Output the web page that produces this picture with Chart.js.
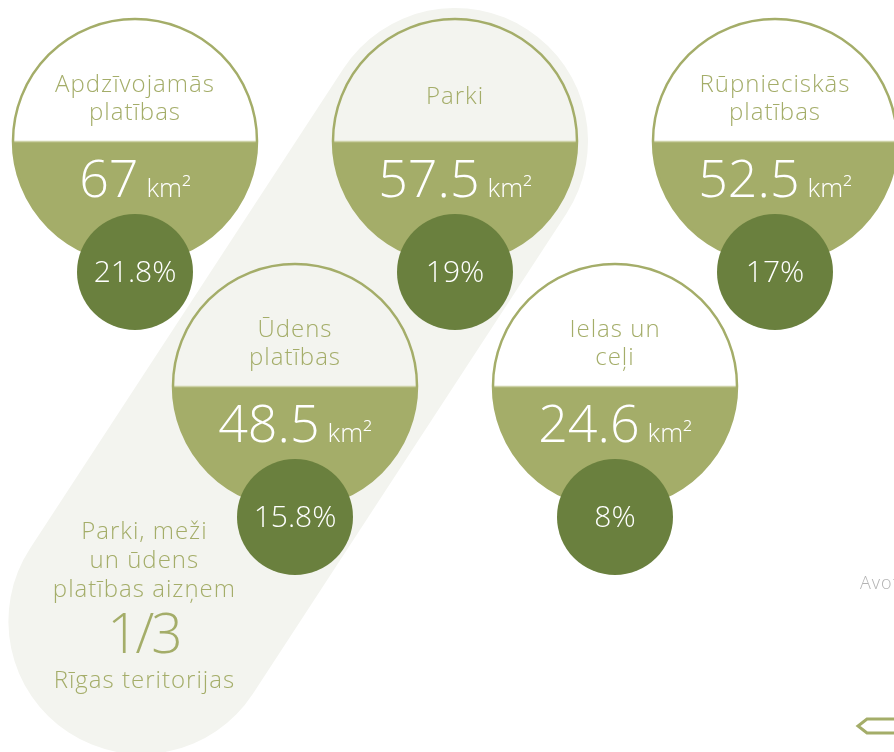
<!DOCTYPE html>
<html lang="lv">
<head>
<meta charset="utf-8">
<title>Rīgas teritorija</title>
<script src="https://cdn.jsdelivr.net/npm/chart.js@4.4.1/dist/chart.umd.min.js"></script>
<style>
  html, body { margin: 0; padding: 0; background: #ffffff; }
  #wrap { width: 894px; height: 752px; }
</style>
</head>
<body>
<div id="wrap"><canvas id="areas" width="894" height="752"></canvas></div>
<script>
// land use categories, area in km2 and share of city territory
const titleLines = [
  ['Apdzīvojamās', 'platības'],
  ['Parki'],
  ['Rūpnieciskās', 'platības'],
  ['Ūdens', 'platības'],
  ['Ielas un', 'ceļi']
];
const areaKm2 = [67, 57.5, 52.5, 48.5, 24.6];
const sharePct = [21.8, 19, 17, 15.8, 8];
// where each bubble sits in the grid (column, row)
const gridCol = [0, 1, 2, 0.5, 1.5];
const gridRow = [0, 0, 0, 1, 1];

const summaryLines = ['Parki, meži', 'un ūdens', 'platības aizņem'];
const summaryFraction = '1/3';
const summaryTail = 'Rīgas teritorijas';
const summaryCol = 0.02;
const summaryRow = 1.96;
const sourceLabel = 'Avots:';

const OLIVE = '#a4ad69';
const DARK = '#6a803e';
const BAND = '#f3f4ef';
const FONT = '"Open Sans", "Noto Sans", sans-serif';

const BIG_R = 122;
const SMALL_R = 58;
const SMALL_DY = 131;

function fmt(v) {
  return String(v);
}

function spaced(ctx, px) {
  ctx.letterSpacing = px + 'px';
}

const bubblePlugin = {
  id: 'bubbles',
  beforeDatasetsDraw(chart) {
    const ctx = chart.ctx;
    const xs = chart.scales.x, ys = chart.scales.y;
    // band from the Parki bubble down to the summary text
    const p1 = { x: xs.getPixelForValue(gridCol[1]), y: ys.getPixelForValue(gridRow[1]) };
    const p2 = { x: xs.getPixelForValue(summaryCol), y: ys.getPixelForValue(summaryRow) };
    ctx.save();
    ctx.strokeStyle = BAND;
    ctx.lineWidth = 266;
    ctx.lineCap = 'round';
    ctx.beginPath();
    ctx.moveTo(p1.x, p1.y);
    ctx.lineTo(p2.x, p2.y);
    ctx.stroke();

    // lower half fill of each bubble
    const meta = chart.getDatasetMeta(0);
    meta.data.forEach((pt) => {
      ctx.fillStyle = OLIVE;
      ctx.beginPath();
      ctx.arc(pt.x, pt.y, BIG_R, 0, Math.PI);
      ctx.closePath();
      ctx.fill();
      ctx.strokeStyle = '#cdd2a8';
      ctx.lineWidth = 1.5;
      ctx.beginPath();
      ctx.moveTo(pt.x - BIG_R + 1, pt.y + 0.5);
      ctx.lineTo(pt.x + BIG_R - 1, pt.y + 0.5);
      ctx.stroke();
    });
    ctx.restore();
  },
  afterDatasetsDraw(chart) {
    const ctx = chart.ctx;
    const xs = chart.scales.x, ys = chart.scales.y;
    const meta = chart.getDatasetMeta(0);
    ctx.save();
    meta.data.forEach((pt, i) => {
      const cx = pt.x, cy = pt.y;
      // titles
      ctx.fillStyle = OLIVE;
      ctx.textAlign = 'center';
      ctx.textBaseline = 'alphabetic';
      ctx.font = '300 24px ' + FONT;
      spaced(ctx, 1);
      const lines = titleLines[i];
      if (lines.length === 1) {
        ctx.fillText(lines[0], cx, cy - 37);
      } else {
        ctx.fillText(lines[0], cx, cy - 49);
        ctx.fillText(lines[1], cx, cy - 21);
      }
      spaced(ctx, 0);
      // value + unit
      ctx.fillStyle = '#ffffff';
      ctx.font = '300 52px ' + FONT;
      const num = fmt(areaKm2[i]);
      const nw = ctx.measureText(num).width;
      ctx.font = '300 26px ' + FONT;
      const unit = 'km²';
      const uw = ctx.measureText(unit).width;
      const gap = 8;
      const left = cx - (nw + gap + uw) / 2;
      ctx.textAlign = 'left';
      ctx.font = '300 52px ' + FONT;
      ctx.fillText(num, left, cy + 56);
      ctx.font = '300 26px ' + FONT;
      ctx.fillText(unit, left + nw + gap, cy + 56);

      // share circle
      const sy = cy + SMALL_DY;
      ctx.fillStyle = DARK;
      ctx.beginPath();
      ctx.arc(cx, sy, SMALL_R, 0, Math.PI * 2);
      ctx.fill();
      ctx.fillStyle = '#ffffff';
      ctx.textAlign = 'center';
      ctx.font = '300 30px ' + FONT;
      ctx.fillText(fmt(sharePct[i]) + '%', cx, sy + 10);
    });

    // summary block
    const sx = xs.getPixelForValue(summaryCol) + 3;
    const sy = ys.getPixelForValue(summaryRow);
    ctx.fillStyle = OLIVE;
    ctx.textAlign = 'center';
    ctx.font = '300 24px ' + FONT;
    spaced(ctx, 1);
    summaryLines.forEach((t, k) => ctx.fillText(t, sx, sy - 82 + k * 29));
    spaced(ctx, -3);
    ctx.font = '300 55px ' + FONT;
    ctx.fillText(summaryFraction, sx - 1, sy + 32);
    ctx.font = '300 24px ' + FONT;
    spaced(ctx, 1);
    ctx.fillText(summaryTail, sx, sy + 67);
    spaced(ctx, 0);

    // source note (cut at the edge) and page arrow
    ctx.fillStyle = '#b3b3b3';
    ctx.textAlign = 'left';
    ctx.font = '300 18px ' + FONT;
    spaced(ctx, 1);
    ctx.fillText(sourceLabel, 860, 589);
    spaced(ctx, 0);
    ctx.strokeStyle = OLIVE;
    ctx.lineWidth = 3;
    ctx.beginPath();
    ctx.moveTo(896, 719);
    ctx.lineTo(867, 719);
    ctx.lineTo(858, 726);
    ctx.lineTo(867, 733);
    ctx.lineTo(896, 733);
    ctx.stroke();
    ctx.restore();
  }
};

const W = 894, H = 752;
const COL_W = 320, ROW_H = 245;
const X0 = 135, Y0 = 141;

new Chart(document.getElementById('areas').getContext('2d'), {
  type: 'scatter',
  data: {
    datasets: [{
      label: 'Platība',
      data: gridCol.map((c, i) => ({ x: c, y: gridRow[i] })),
      pointRadius: BIG_R,
      pointHoverRadius: BIG_R,
      backgroundColor: 'rgba(0,0,0,0)',
      borderColor: OLIVE,
      borderWidth: 2.5,
      clip: false
    }]
  },
  options: {
    responsive: false,
    animation: false,
    events: [],
    layout: { padding: 0, autoPadding: false },
    plugins: { legend: { display: false }, tooltip: { enabled: false } },
    scales: {
      x: { type: 'linear', display: false, min: -X0 / COL_W, max: (W - X0) / COL_W },
      y: { type: 'linear', display: false, reverse: true, min: -Y0 / ROW_H, max: (H - Y0) / ROW_H }
    }
  },
  plugins: [bubblePlugin]
});
</script>
</body>
</html>
